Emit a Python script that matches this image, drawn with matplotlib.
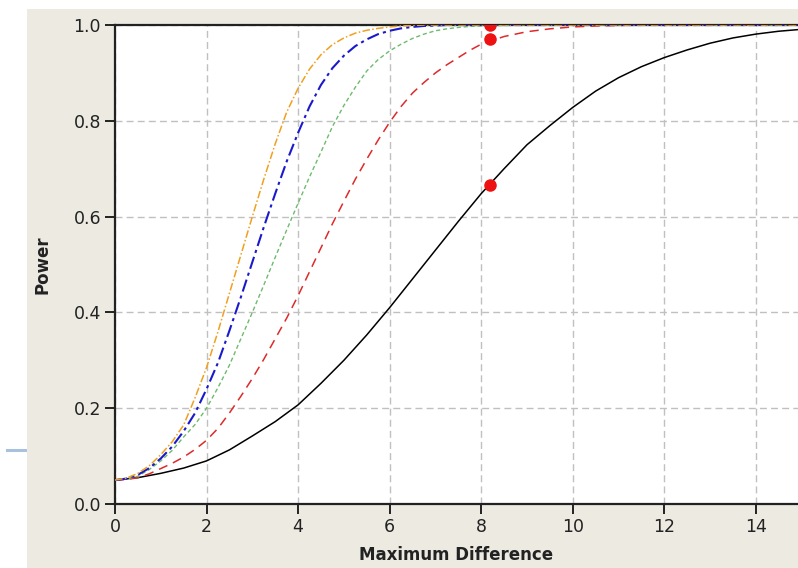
import matplotlib
matplotlib.use("Agg")
import matplotlib.pyplot as plt
from matplotlib.patches import Rectangle
from matplotlib.lines import Line2D

# ---- data ----
# fine grid for the steep curves: 0..8 step 0.25, then 8.5..15 step 0.5
x_fine = [0, 0.25, 0.5, 0.75, 1, 1.25, 1.5, 1.75, 2, 2.25, 2.5, 2.75, 3, 3.25, 3.5,
          3.75, 4, 4.25, 4.5, 4.75, 5, 5.25, 5.5, 5.75, 6, 6.25, 6.5, 6.75, 7,
          7.25, 7.5, 7.75, 8, 8.5, 9, 9.5, 10, 10.5, 11, 11.5, 12, 12.5, 13,
          13.5, 14, 14.5, 15]
x_coarse = [0, 0.5, 1, 1.5, 2, 2.5, 3, 3.5, 4, 4.5, 5, 5.5, 6, 6.5, 7, 7.5,
            8, 8.5, 9, 9.5, 10, 10.5, 11, 11.5, 12, 12.5, 13, 13.5, 14, 14.5, 15]

power_black = [0.05, 0.055, 0.064, 0.075, 0.09, 0.113, 0.142, 0.172, 0.207, 0.252,
               0.30, 0.353, 0.41, 0.47, 0.53, 0.59, 0.648, 0.70, 0.75, 0.79,
               0.828, 0.862, 0.89, 0.913, 0.932, 0.948, 0.962, 0.973, 0.981, 0.987, 0.991]
power_red = [0.050, 0.051, 0.055, 0.063, 0.074, 0.085, 0.098, 0.114, 0.133, 0.158,
             0.190, 0.225, 0.262, 0.302, 0.345, 0.388, 0.435, 0.485, 0.535, 0.585,
             0.632, 0.678, 0.720, 0.760, 0.797, 0.830, 0.858, 0.880, 0.900, 0.917,
             0.932, 0.947, 0.960,
             0.976, 0.986, 0.992, 0.996, 0.998, 0.999, 1.0, 1.0, 1.0, 1.0, 1.0, 1.0, 1.0, 1.0]
power_green = [0.050, 0.052, 0.058, 0.072, 0.090, 0.112, 0.140, 0.166, 0.200, 0.243,
               0.290, 0.345, 0.400, 0.457, 0.515, 0.572, 0.628, 0.683, 0.735, 0.788,
               0.832, 0.870, 0.904, 0.928, 0.946, 0.960, 0.972, 0.981, 0.988, 0.992,
               0.995, 0.997, 0.998,
               0.999, 1.0, 1.0, 1.0, 1.0, 1.0, 1.0, 1.0, 1.0, 1.0, 1.0, 1.0, 1.0, 1.0]
power_blue = [0.050, 0.053, 0.061, 0.075, 0.095, 0.120, 0.152, 0.190, 0.240, 0.295,
              0.362, 0.432, 0.505, 0.578, 0.648, 0.715, 0.775, 0.830, 0.875, 0.910,
              0.936, 0.956, 0.970, 0.981, 0.988, 0.993, 0.996, 0.998, 0.999, 1.0,
              1.0, 1.0, 1.0,
              1.0, 1.0, 1.0, 1.0, 1.0, 1.0, 1.0, 1.0, 1.0, 1.0, 1.0, 1.0, 1.0, 1.0]
power_orange = [0.050, 0.054, 0.064, 0.080, 0.103, 0.130, 0.165, 0.222, 0.285, 0.360,
                0.440, 0.520, 0.600, 0.678, 0.752, 0.818, 0.868, 0.908, 0.938, 0.959,
                0.973, 0.983, 0.989, 0.993, 0.996, 0.998, 0.999, 1.0, 1.0, 1.0,
                1.0, 1.0, 1.0,
                1.0, 1.0, 1.0, 1.0, 1.0, 1.0, 1.0, 1.0, 1.0, 1.0, 1.0, 1.0, 1.0, 1.0]

marker_x = [8.2, 8.2, 8.2]
marker_y = [0.667, 0.97, 1.0]

x_ticks = [0, 2, 4, 6, 8, 10, 12, 14]
y_ticks = [0.0, 0.2, 0.4, 0.6, 0.8, 1.0]

# ---- figure ----
W, H = 798, 568
fig = plt.figure(figsize=(W / 100, H / 100), dpi=100)
fig.patch.set_facecolor("white")
# beige panel (white strips at top and left)
fig.patches.append(Rectangle((27 / W, 0), 1 - 27 / W, 1 - 9 / H,
                             transform=fig.transFigure, facecolor="#EDEAE2",
                             edgecolor="none", zorder=-10))
fig.lines.append(Line2D([7 / W, 25 / W], [1 - 450 / H, 1 - 450 / H],
                        transform=fig.transFigure, color="#A9C1DC", lw=2.2,
                        zorder=-10))

ax = fig.add_axes([115 / W, 1 - 504 / H, 1 - 115 / W, (504 - 25) / H])
ax.set_zorder(5)
ax.set_facecolor("white")

ax.plot(x_coarse, power_black, color="black", lw=1.1, ls="-", zorder=3)
ax.plot(x_fine, power_red, color="#DD2A2A", lw=1.1, ls=(0, (6, 4)), zorder=3)
ax.plot(x_fine, power_green, color="#6DBB6D", lw=1.0, ls=(0, (3, 2)), zorder=3)
ax.plot(x_fine, power_blue, color="#1A1ACC", lw=1.5, ls=(0, (6, 2, 1.5, 2)), zorder=3)
ax.plot(x_fine, power_orange, color="#F0A020", lw=1.1, ls=(0, (5, 1.5, 1, 1.5)), zorder=3)
ax.plot(marker_x, marker_y, ls="none", marker="o", ms=8, color="#EE1111",
        zorder=4, clip_on=True)

ax.set_xlim(0, 14.92)
ax.set_ylim(0, 1.0)
ax.set_xticks(x_ticks)
ax.set_yticks(y_ticks)
ax.set_yticklabels([f"{v:.1f}" for v in y_ticks])

ax.grid(True, color="#C0C0C0", ls=(0, (5, 3)), lw=1.0)
ax.set_axisbelow(True)

for side in ["left", "bottom", "top"]:
    ax.spines[side].set_color("#222222")
    ax.spines[side].set_linewidth(1.6)
ax.spines["right"].set_visible(False)

ax.tick_params(axis="both", direction="out", length=7, width=1.4,
               color="#222222", labelsize=12.5, labelcolor="#222222", pad=3)

ax.set_xlabel("Maximum Difference", fontsize=12, fontweight="bold",
              color="#222222", labelpad=7)
ax.set_ylabel("Power", fontsize=12, fontweight="bold", color="#222222",
              labelpad=16)

fig.savefig("out.png", dpi=100, facecolor=fig.get_facecolor())
